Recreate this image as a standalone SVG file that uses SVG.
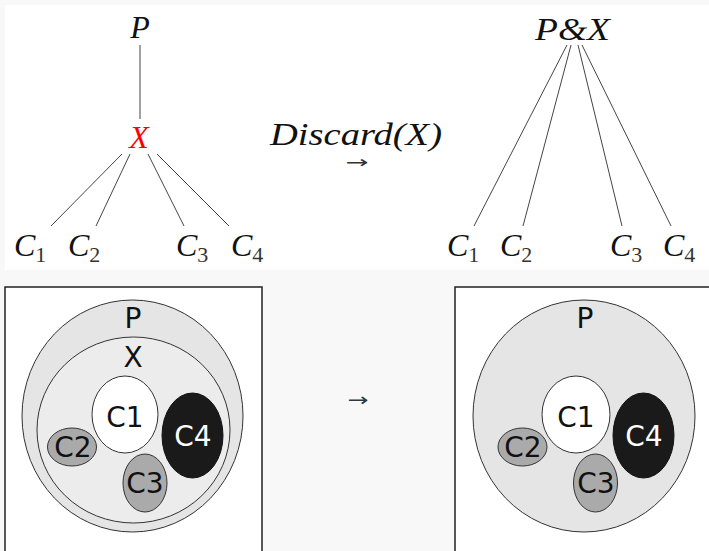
<svg xmlns="http://www.w3.org/2000/svg" width="709" height="551" viewBox="0 0 709 551">
<style>
.math{font-family:"Liberation Serif","DejaVu Serif",serif;font-style:italic;font-size:32px;fill:#111}
.sub{font-family:"Liberation Serif","DejaVu Serif",serif;font-style:normal;font-size:22px;fill:#333}
.edge{stroke:#444;stroke-width:1;fill:none}
.box{fill:#fff;stroke:#222;stroke-width:1.5}
.outer{fill:#e5e5e5;stroke:#333;stroke-width:1}
.inner{fill:#ececec;stroke:#333;stroke-width:1}
.white{fill:#fff;stroke:#333;stroke-width:1}
.grey{fill:#aaa;stroke:#333;stroke-width:1}
.black{fill:#1a1a1a;stroke:#111;stroke-width:1}
.lbl{font-family:"DejaVu Sans","Noto Sans",sans-serif;font-size:28px;fill:#111;text-anchor:middle}
.arr{font-family:"DejaVu Sans",sans-serif;fill:#2b3a42;text-anchor:middle}
</style>
<rect x="0" y="0" width="709" height="551" fill="#f8f8f8"/>
<rect x="5" y="5" width="704" height="265" fill="#fff"/>

<g id="connectors">
<line class="edge" x1="140" y1="45" x2="140" y2="119" stroke="#666" stroke-width="1.4"/>
<line class="edge" x1="122" y1="154" x2="51" y2="226"/>
<line class="edge" x1="130" y1="154" x2="96" y2="226"/>
<line class="edge" x1="148" y1="154" x2="184" y2="226"/>
<line class="edge" x1="157" y1="154" x2="229" y2="226"/>
<line class="edge" x1="567" y1="45" x2="474" y2="226"/>
<line class="edge" x1="571" y1="45" x2="523" y2="226"/>
<line class="edge" x1="578" y1="45" x2="622" y2="226"/>
<line class="edge" x1="582" y1="45" x2="671" y2="226"/>
</g>

<g id="tree-left">
<g id="t-P"><text class="math" x="140" y="38" text-anchor="middle">P</text></g>
<g id="t-X"><text class="math" x="139" y="148" text-anchor="middle" style="fill:#f00">X</text></g>
<g id="t-C1"><text class="math" x="14" y="256">C<tspan class="sub" dy="6">1</tspan></text></g>
<g id="t-C2"><text class="math" x="68" y="256">C<tspan class="sub" dy="6">2</tspan></text></g>
<g id="t-C3"><text class="math" x="176" y="256">C<tspan class="sub" dy="6">3</tspan></text></g>
<g id="t-C4"><text class="math" x="231" y="256">C<tspan class="sub" dy="6">4</tspan></text></g>
</g>

<g id="discard">
<text class="math" x="270" y="145" textLength="172" lengthAdjust="spacingAndGlyphs">Discard(X)</text>
<text class="arr" x="357" y="168" font-size="17" style="fill:#333" textLength="23" lengthAdjust="spacingAndGlyphs">→</text>
</g>

<g id="tree-right">
<g id="r-PX"><text class="math" x="535" y="40" textLength="75" lengthAdjust="spacingAndGlyphs">P&amp;X</text></g>
<g id="r-C1"><text class="math" x="447" y="256">C<tspan class="sub" dy="6">1</tspan></text></g>
<g id="r-C2"><text class="math" x="500" y="256">C<tspan class="sub" dy="6">2</tspan></text></g>
<g id="r-C3"><text class="math" x="610" y="256">C<tspan class="sub" dy="6">3</tspan></text></g>
<g id="r-C4"><text class="math" x="663" y="256">C<tspan class="sub" dy="6">4</tspan></text></g>
</g>

<g id="venn-left">
<rect class="box" x="5" y="287" width="257" height="270"/>
<g id="v-P"><ellipse class="outer" cx="132.5" cy="416" rx="110.5" ry="116"/><text class="lbl" x="133" y="328">P</text></g>
<g id="v-X"><ellipse class="inner" cx="133.5" cy="430" rx="96.5" ry="93"/><text class="lbl" x="133" y="367">X</text></g>
<g id="v-C1"><ellipse class="white" cx="125" cy="414.5" rx="33" ry="38.5"/><text class="lbl" x="125" y="427">C1</text></g>
<g id="v-C4"><ellipse class="black" cx="192.5" cy="435.5" rx="30.5" ry="42.5"/><text class="lbl" x="193" y="446" style="fill:#fff">C4</text></g>
<g id="v-C2"><ellipse class="grey" cx="72" cy="447" rx="24.5" ry="19"/><text class="lbl" x="73" y="457" font-size="29">C2</text></g>
<g id="v-C3"><ellipse class="grey" cx="145" cy="483" rx="22" ry="29"/><text class="lbl" x="145" y="493" font-size="29">C3</text></g>
</g>

<g id="arrow-mid"><text class="arr" x="358" y="406" font-size="18" textLength="21" lengthAdjust="spacingAndGlyphs">→</text></g>

<g id="venn-right">
<rect class="box" x="455" y="287" width="260" height="270"/>
<g id="w-P"><ellipse class="outer" cx="584" cy="416" rx="111" ry="116"/><text class="lbl" x="585" y="328">P</text></g>
<g id="w-C1"><ellipse class="white" cx="576" cy="414.5" rx="34" ry="38.5"/><text class="lbl" x="576" y="427">C1</text></g>
<g id="w-C4"><ellipse class="black" cx="643.5" cy="435.5" rx="30.5" ry="42.5"/><text class="lbl" x="644" y="446" style="fill:#fff">C4</text></g>
<g id="w-C2"><ellipse class="grey" cx="522.5" cy="447" rx="24.5" ry="19"/><text class="lbl" x="523" y="457" font-size="29">C2</text></g>
<g id="w-C3"><ellipse class="grey" cx="595.5" cy="483" rx="22" ry="29"/><text class="lbl" x="596" y="493" font-size="29">C3</text></g>
</g>
</svg>
